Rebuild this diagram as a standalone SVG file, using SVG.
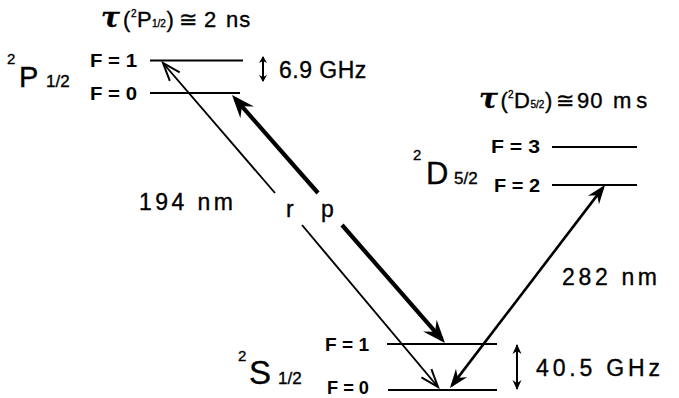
<svg xmlns="http://www.w3.org/2000/svg" width="679" height="398" viewBox="0 0 679 398">
<style>
text{font-family:"Liberation Sans",Arial,sans-serif;fill:#000;stroke:#000;stroke-width:0.35}
.lvl{stroke:#000;stroke-width:2.2;fill:none}
.F{font-size:18px;font-weight:bold;stroke-width:0}
.big{font-size:22px}
.tau{font-family:"DejaVu Serif","Liberation Serif",serif;font-style:italic;font-weight:bold;font-size:28px}
.lab{font-size:23px}
.sup{font-size:15px}
.sub{font-size:17px}
.tsup{font-size:10px}
.tsub{font-size:10px}
.conn{stroke:#000;fill:none;stroke-linecap:butt}
</style>
<defs>
<marker id="hThick" viewBox="-24 -10 25 20" refX="-5" refY="0" markerWidth="25" markerHeight="20" markerUnits="userSpaceOnUse" orient="auto" overflow="visible">
<path d="M0,0 L-23,-9 L-15,0 L-23,9 Z" fill="#000"/>
</marker>
<marker id="hMed" viewBox="-20 -8 21 16" refX="-3" refY="0" markerWidth="21" markerHeight="16" markerUnits="userSpaceOnUse" orient="auto-start-reverse" overflow="visible">
<path d="M0,0 L-19,-7 L-13,0 L-19,7 Z" fill="#000"/>
</marker>
<marker id="hOpen" viewBox="-20 -8 21 16" refX="0" refY="0" markerWidth="21" markerHeight="16" markerUnits="userSpaceOnUse" orient="auto" overflow="visible">
<path d="M-18,-6.5 L0,0 L-18,6.5" fill="none" stroke="#000" stroke-width="2"/>
</marker>
<marker id="hSmall" viewBox="-8 -5 9 10" refX="-1" refY="0" markerWidth="9" markerHeight="10" markerUnits="userSpaceOnUse" orient="auto-start-reverse" overflow="visible">
<path d="M0,0 L-7,-4 L-5,0 L-7,4 Z" fill="#000"/>
</marker>
<marker id="hSmall2" viewBox="-11 -5 12 10" refX="-1" refY="0" markerWidth="12" markerHeight="10" markerUnits="userSpaceOnUse" orient="auto-start-reverse" overflow="visible">
<path d="M0,0 L-10,-4.5 L-7,0 L-10,4.5 Z" fill="#000"/>
</marker>
</defs>

<g id="level-P">
<text x="7" y="64" class="sup">2</text>
<text x="19" y="87" style="font-size:29px">P</text>
<text x="46" y="87" class="sub">1/2</text>
<text x="90" y="67" class="F" textLength="47" lengthAdjust="spacingAndGlyphs">F = 1</text>
<text x="90" y="100" class="F" textLength="47" lengthAdjust="spacingAndGlyphs">F = 0</text>
<line class="lvl" x1="150" y1="60.5" x2="243" y2="60.5"/>
<line class="lvl" x1="150" y1="93" x2="240" y2="93"/>
</g>

<g id="level-D">
<text x="413" y="160" class="sup">2</text>
<text x="426" y="184" style="font-size:31px">D</text>
<text x="454" y="184" class="sub">5/2</text>
<text x="491" y="153" class="F" textLength="49" lengthAdjust="spacingAndGlyphs">F = 3</text>
<text x="494" y="192" class="F" textLength="46" lengthAdjust="spacingAndGlyphs">F = 2</text>
<line class="lvl" x1="552" y1="147" x2="637" y2="147"/>
<line class="lvl" x1="552" y1="185" x2="637" y2="185"/>
</g>

<g id="level-S">
<text x="238" y="361" class="sup">2</text>
<text x="249" y="384" style="font-size:33px">S</text>
<text x="278" y="384" class="sub">1/2</text>
<text x="325" y="351" class="F" textLength="44" lengthAdjust="spacingAndGlyphs">F = 1</text>
<text x="327" y="394" class="F" textLength="42" lengthAdjust="spacingAndGlyphs">F = 0</text>
<line class="lvl" x1="387" y1="344" x2="497" y2="344"/>
<line class="lvl" x1="388" y1="390" x2="497" y2="390"/>
</g>

<g id="title-P">
<text y="27"><tspan x="101" class="tau">τ</tspan><tspan x="123" class="big">(</tspan><tspan x="131" y="17" class="tsup">2</tspan><tspan x="137" y="27" class="big">P</tspan><tspan x="152" y="27" class="tsub">1/2</tspan><tspan x="166.5" class="big">)</tspan><tspan x="179" class="big">≅</tspan><tspan x="204" class="big">2</tspan><tspan x="226" class="big" letter-spacing="1">ns</tspan></text>
</g>

<g id="title-D">
<text y="108"><tspan x="479" class="tau">τ</tspan><tspan x="500.5" class="big">(</tspan><tspan x="508" y="98" class="tsup">2</tspan><tspan x="514" y="108" class="big">D</tspan><tspan x="530.5" y="108" class="tsub">5/2</tspan><tspan x="545" class="big">)</tspan><tspan x="556" class="big">≅</tspan><tspan x="577" class="big" letter-spacing="1">90</tspan><tspan x="613" class="big" letter-spacing="5">ms</tspan></text>
</g>

<g id="connectors">
<!-- r : thin, 194 nm -->
<line class="conn" stroke-width="1.9" x1="275" y1="193" x2="163" y2="63" marker-end="url(#hOpen)"/>
<line class="conn" stroke-width="1.9" x1="302" y1="225" x2="438" y2="387" marker-end="url(#hOpen)"/>
<!-- p : thick -->
<line class="conn" stroke-width="4.2" x1="318" y1="193" x2="235.3" y2="98.8" marker-end="url(#hThick)"/>
<line class="conn" stroke-width="4.2" x1="342" y1="225" x2="441.7" y2="339.2" marker-end="url(#hThick)"/>
<!-- 282 nm -->
<line class="conn" stroke-width="2.6" x1="451.8" y1="385.6" x2="603.2" y2="187.4" marker-start="url(#hMed)" marker-end="url(#hMed)"/>
<!-- splitting arrows -->
<line class="conn" stroke-width="2" x1="263" y1="57" x2="263" y2="81" marker-start="url(#hSmall)" marker-end="url(#hSmall)"/>
<line class="conn" stroke-width="2" x1="517" y1="345" x2="517" y2="389" marker-start="url(#hSmall2)" marker-end="url(#hSmall2)"/>
</g>

<g id="labels">
<text x="279" y="78" class="lab" letter-spacing="0.5">6.9 GHz</text>
<text x="536" y="376" class="lab" textLength="124" lengthAdjust="spacing">40.5 GHz</text>
<text x="139" y="210" class="lab" textLength="94" lengthAdjust="spacing">194 nm</text>
<text x="562" y="285" class="lab" textLength="95" lengthAdjust="spacing">282 nm</text>
<text x="286" y="217" class="lab">r</text>
<text x="321" y="217" class="lab">p</text>
</g>
</svg>
